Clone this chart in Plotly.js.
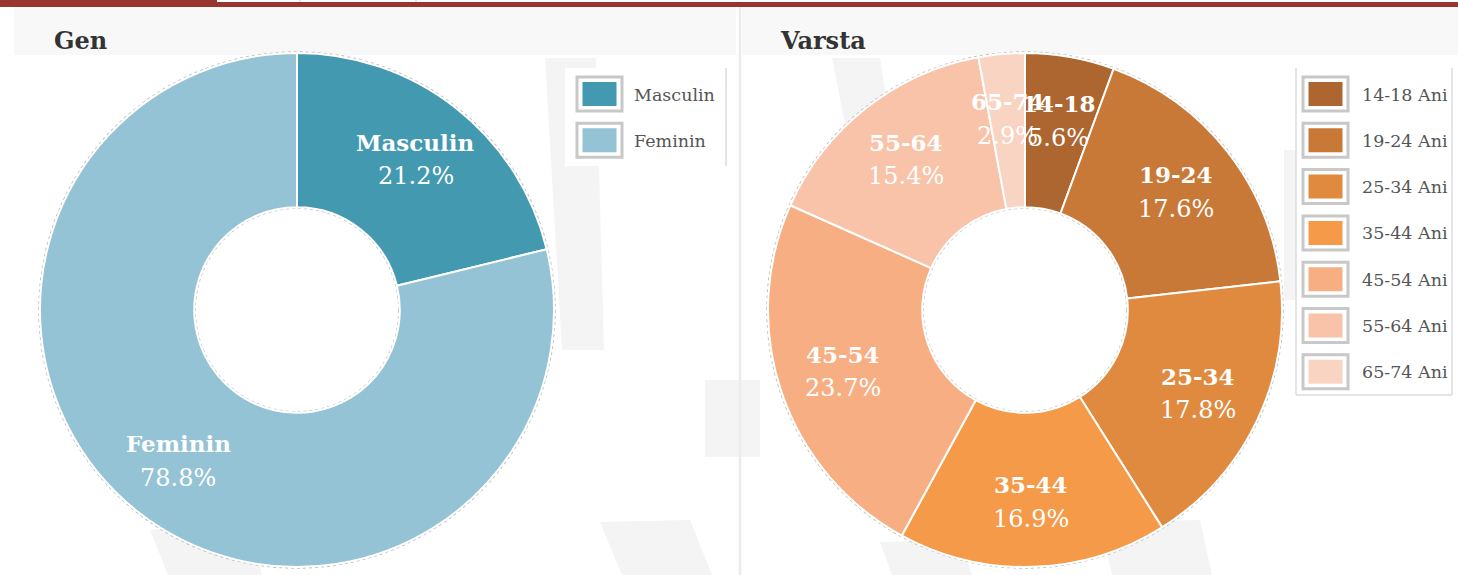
<!DOCTYPE html>
<html>
<head>
<meta charset="utf-8">
<script src="https://cdn.plot.ly/plotly-3.0.1.min.js"></script>
<style>html,body{margin:0;padding:0;background:#fff;}#chart{width:1458px;height:575px;}</style>
</head>
<body>
<div id="chart"></div>
<script>
// ---- data ----
const genderTitle = 'Gen';
const genderLabels = ['Masculin', 'Feminin'];
const genderValues = [21.2, 78.8];
const genderColors = ['#4399b0', '#94c3d5'];

const ageTitle = 'Varsta';
const ageLabels = ['14-18', '19-24', '25-34', '35-44', '45-54', '55-64', '65-74'];
const ageLegendLabels = ['14-18 Ani', '19-24 Ani', '25-34 Ani', '35-44 Ani', '45-54 Ani', '55-64 Ani', '65-74 Ani'];
const ageValues = [5.6, 17.6, 17.8, 16.9, 23.7, 15.4, 2.9];
const ageColors = ['#ad6630', '#c97937', '#e08a40', '#f59a48', '#f7ae82', '#f8c3a8', '#fad4c2'];

// ---- layout helpers ----
const W = 1458, H = 575;
const px = x => x / W;
const py = y => 1 - y / H;
const FONT = 'DejaVu Serif, Liberation Serif, serif';
const R = 257, HOLE = 0.4, LABEL_R = 192;
const pies = [
  {cx: 297, cy: 310, names: genderLabels, legend: genderLabels, values: genderValues, colors: genderColors,
   title: genderTitle, tx: 52, legendBox: [565, 68, 726, 166], sw: 577, lx: 632},
  {cx: 1025, cy: 310, names: ageLabels, legend: ageLegendLabels, values: ageValues, colors: ageColors,
   title: ageTitle, tx: 778, legendBox: [1296, 68, 1452, 395], sw: 1303, lx: 1360}
];

const shapes = [];
const annotations = [];
const traces = [];

function rect(x0, y0, x1, y1, fill, line, layer) {
  shapes.push({type: 'rect', xref: 'paper', yref: 'paper', x0: px(x0), x1: px(x1), y0: py(y1), y1: py(y0),
    fillcolor: fill, line: line || {width: 0}, layer: layer || 'below'});
}
function line(x0, y0, x1, y1, color, width, layer) {
  shapes.push({type: 'line', xref: 'paper', yref: 'paper', x0: px(x0), x1: px(x1), y0: py(y0), y1: py(y1),
    line: {color: color, width: width}, layer: layer || 'below'});
}
function poly(pts, fill) {
  const d = 'M' + pts.map(p => px(p[0]) + ',' + py(p[1])).join('L') + 'Z';
  shapes.push({type: 'path', xref: 'paper', yref: 'paper', path: d, fillcolor: fill, line: {width: 0}, layer: 'below'});
}

// header bands, divider, top bar
rect(14, 7, 736, 55, '#f8f8f8');
rect(742, 7, 1458, 55, '#f8f8f8');
// faint watermark strokes
const wm = '#f4f4f4';
poly([[545, 58], [596, 58], [604, 350], [562, 350]], wm);
poly([[150, 530], [250, 518], [262, 575], [168, 575]], wm);
poly([[600, 522], [690, 520], [712, 575], [622, 575]], wm);
poly([[832, 58], [880, 58], [900, 190], [858, 190]], wm);
poly([[705, 380], [760, 380], [760, 457], [705, 457]], wm);
poly([[880, 542], [960, 540], [972, 575], [892, 575]], wm);
poly([[1100, 522], [1200, 520], [1212, 575], [1112, 575]], wm);
poly([[1284, 150], [1296, 150], [1296, 300], [1284, 300]], wm);
line(740, 7, 740, 575, '#ebebeb', 2.5);
rect(0, 2, 1458, 7, '#98352f', null, 'above');
rect(0, 0, 217, 7, '#98352f', null, 'above');
line(300, 0, 300, 2, '#cccccc', 1, 'above');
line(416, 0, 416, 2, '#cccccc', 1, 'above');

pies.forEach(p => {
  // rim shadows
  shapes.push({type: 'circle', xref: 'paper', yref: 'paper', x0: px(p.cx - R - 1), x1: px(p.cx + R + 1),
    y0: py(p.cy + R + 1), y1: py(p.cy - R - 1), line: {color: '#bdbdbd', width: 1.5, dash: 'dot'}, layer: 'below'});
  const hr = R * HOLE;
  shapes.push({type: 'circle', xref: 'paper', yref: 'paper', x0: px(p.cx - hr + 1), x1: px(p.cx + hr - 1),
    y0: py(p.cy + hr - 1), y1: py(p.cy - hr + 1), fillcolor: '#ffffff', line: {color: '#c4c4c4', width: 1.5, dash: 'dot'}, layer: 'below'});

  traces.push({
    type: 'pie', labels: p.legend, values: p.values, sort: false, direction: 'clockwise', rotation: 0,
    hole: HOLE, textinfo: 'none', hoverinfo: 'label+percent', showlegend: false,
    marker: {colors: p.colors, line: {color: '#ffffff', width: 2}},
    domain: {x: [px(p.cx - R), px(p.cx + R)], y: [py(p.cy + R), py(p.cy - R)]}
  });

  // slice labels positioned from the data
  const total = p.values.reduce((a, b) => a + b, 0);
  let cum = 0;
  p.values.forEach((v, i) => {
    const th = 2 * Math.PI * (cum + v / 2) / total;
    cum += v;
    const lx = p.cx + LABEL_R * Math.sin(th);
    const ly = p.cy - LABEL_R * Math.cos(th);
    annotations.push({xref: 'paper', yref: 'paper', x: px(lx), y: py(ly - 17), text: '<b>' + p.names[i] + '</b>',
      showarrow: false, xanchor: 'center', yanchor: 'middle', font: {family: FONT, size: 23, color: '#ffffff'}});
    annotations.push({xref: 'paper', yref: 'paper', x: px(lx), y: py(ly + 17), text: v.toFixed(1) + '%',
      showarrow: false, xanchor: 'center', yanchor: 'middle', font: {family: FONT, size: 24, color: '#ffffff'}});
  });

  // title
  annotations.push({xref: 'paper', yref: 'paper', x: px(p.tx), y: py(40), text: '<b>' + p.title + '</b>',
    showarrow: false, xanchor: 'left', yanchor: 'middle', font: {family: FONT, size: 24, color: '#333333'}});

  // legend box
  const b = p.legendBox;
  rect(b[0], b[1], b[2], b[3], '#ffffff');
  line(b[2], b[1], b[2], b[3], '#dddddd', 1.5);
  if (b[3] > 300) { line(b[0], b[1], b[0], b[3], '#dddddd', 1.5); line(b[0], b[3], b[2], b[3], '#dddddd', 1.5); }
  p.legend.forEach((name, i) => {
    const y0 = 77 + 46.3 * i;
    rect(p.sw, y0, p.sw + 45, y0 + 34, '#ffffff', {color: '#c8c8c8', width: 3});
    rect(p.sw + 5.5, y0 + 5, p.sw + 39.5, y0 + 29, p.colors[i]);
    annotations.push({xref: 'paper', yref: 'paper', x: px(p.lx), y: py(y0 + 17.5), text: name,
      showarrow: false, xanchor: 'left', yanchor: 'middle', font: {family: FONT, size: 17.5, color: '#555555'}});
  });
});

const layout = {
  width: W, height: H, margin: {l: 0, r: 0, t: 0, b: 0},
  paper_bgcolor: '#ffffff', plot_bgcolor: '#ffffff', showlegend: false,
  shapes: shapes, annotations: annotations
};
Plotly.newPlot('chart', traces, layout, {displayModeBar: false, staticPlot: true});
</script>
</body>
</html>
